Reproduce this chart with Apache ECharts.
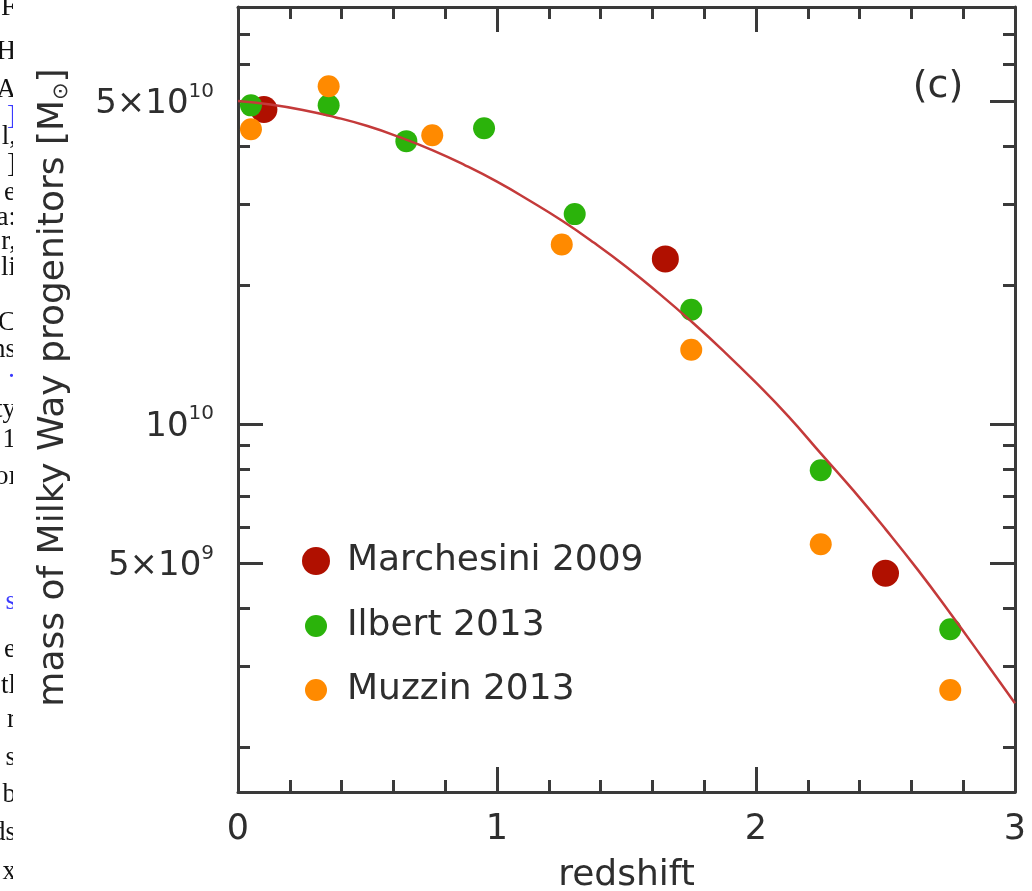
<!DOCTYPE html>
<html><head><meta charset="utf-8">
<script src="https://cdn.jsdelivr.net/npm/echarts@6/dist/echarts.min.js"></script>
<style>html,body{margin:0;padding:0;background:#fff}#c{width:1032px;height:891px}</style>
</head><body><div id="c"></div>
<script>
// ---------------- data ----------------
const xTickLabels = ['0', '1', '2', '3'];
const yMajorTicks = [5e9, 1e10, 5e10];
const yMajorLabels = [['5×10', '9'], ['10', '10'], ['5×10', '10']];
const yMinorTicks = [2e9, 3e9, 4e9, 6e9, 7e9, 8e9, 9e9, 2e10, 3e10, 4e10, 6e10, 7e10];
const seriesNames = ['Marchesini 2009', 'Ilbert 2013', 'Muzzin 2013'];
const marchesini = [[0.10, 4.80e10], [1.65, 2.28e10], [2.50, 4.76e9]];
const ilbert = [[0.05, 4.90e10], [0.35, 4.90e10], [0.65, 4.10e10], [0.95, 4.37e10], [1.30, 2.85e10],
                [1.75, 1.77e10], [2.25, 7.95e9], [2.75, 3.60e9]];
const muzzin = [[0.05, 4.35e10], [0.35, 5.39e10], [0.75, 4.22e10], [1.25, 2.45e10], [1.75, 1.45e10],
                [2.25, 5.50e9], [2.75, 2.66e9]];
const fitCurve = [[0.000, 5.01e10], [0.125, 4.92e10], [0.250, 4.79e10], [0.375, 4.62e10], [0.500, 4.42e10],
                  [0.625, 4.18e10], [0.750, 3.92e10], [0.875, 3.64e10], [1.000, 3.35e10], [1.125, 3.05e10],
                  [1.250, 2.76e10], [1.375, 2.47e10], [1.500, 2.19e10], [1.625, 1.92e10], [1.750, 1.67e10],
                  [1.875, 1.44e10], [2.000, 1.23e10], [2.125, 1.04e10], [2.250, 8.65e9], [2.375, 7.20e9],
                  [2.500, 5.93e9], [2.625, 4.84e9], [2.750, 3.90e9], [2.875, 3.12e9], [3.000, 2.49e9]];
const panelLabel = '(c)';
const xTitle = 'redshift';
const yTitleParts = ['mass of Milky Way progenitors [M', '⊙', ']'];
// text fragments of the neighbouring page column (left edge)
const fragments = ['oF', 'H', '[A', ']', 'l,', ']', 'e', 'a:', 'r,', 'li', 'C', 'ns', '·', 'ty', '1', 'oı',
                   's', 'e', 'tl', 'r', 's', 'b', 'ds', 'x'];
const fragmentY = [8, 52, 90, 117, 137, 165, 193, 218, 242, 268, 323, 350, 378, 410, 440, 477,
                   602, 650, 686, 720, 758, 795, 833, 872];
const fragmentBlue = [3, 12, 16];

// ---------------- chart ----------------
const FONT = '"DejaVu Sans", sans-serif';
const AX = '#3a3a3a';
const TXT = '#2e2e2e';
const cRed = '#b01000', cGreen = '#2bb30b', cOrange = '#ff8a00', cLine = '#c43a3a';
const yMin = 1.6e9, yMax = 8e10;

function yLabel(v) {
  let best = 0, bd = Infinity;
  yMajorTicks.forEach((t, i) => { const d = Math.abs(Math.log(v / t)); if (d < bd) { bd = d; best = i; } });
  const p = yMajorLabels[best];
  return '{b|' + p[0] + '}{s|' + p[1] + '}';
}

function yAxisDef(pos, ticks, len, showLabel, showLine, withName) {
  const a = {
    type: 'log', logBase: 10, min: yMin, max: yMax, position: pos, gridIndex: 0,
    splitLine: { show: false }, minorTick: { show: false }, minorSplitLine: { show: false },
    axisLine: { show: showLine, lineStyle: { color: AX, width: 3 } },
    axisTick: { show: true, inside: true, length: len, customValues: ticks, lineStyle: { color: AX, width: 3 } },
    axisLabel: { show: showLabel }
  };
  if (showLabel) {
    a.axisLabel = {
      show: true, customValues: yMajorTicks, margin: 24, formatter: yLabel,
      rich: {
        b: { fontFamily: FONT, fontSize: 34, color: TXT, lineHeight: 40, padding: [6, 0, 0, 0] },
        s: { fontFamily: FONT, fontSize: 20, color: TXT, verticalAlign: 'top', lineHeight: 40, padding: [0, 0, 10, 0] }
      }
    };
  }
  if (withName) {
    a.name = '{t|' + yTitleParts[0] + '}{u|' + yTitleParts[1] + '}{t|' + yTitleParts[2] + '}';
    a.nameLocation = 'middle';
    a.nameRotate = 90;
    a.nameGap = 166;
    a.nameTextStyle = {
      padding: [0, 0, 0, 24],
      rich: {
        t: { fontFamily: FONT, fontSize: 36, color: TXT },
        u: { fontFamily: FONT, fontSize: 21, color: TXT, verticalAlign: 'bottom' }
      }
    };
  }
  return a;
}

function xAxisDef(pos, showLabel, withName) {
  const a = {
    type: 'value', min: 0, max: 3, interval: 1, position: pos, gridIndex: 0,
    splitLine: { show: false },
    axisLine: { show: true, onZero: false, lineStyle: { color: AX, width: 3 } },
    axisTick: { show: true, inside: true, length: 25, lineStyle: { color: AX, width: 3 } },
    minorTick: { show: true, splitNumber: 5, length: 12, lineStyle: { color: AX, width: 3 } },
    axisLabel: { show: showLabel, margin: 20, fontFamily: FONT, fontSize: 35, color: TXT,
                 formatter: v => xTickLabels[Math.round(v)] }
  };
  if (withName) {
    a.name = xTitle; a.nameLocation = 'middle'; a.nameGap = 66;
    a.nameTextStyle = { fontFamily: FONT, fontSize: 36, color: TXT };
  }
  return a;
}

function legendDef(name, size, left, top) {
  return {
    data: [{ name: name, icon: 'circle' }], orient: 'vertical', left: left, top: top, padding: 0,
    itemWidth: 52, itemHeight: size, selectedMode: false,
    textStyle: { fontFamily: FONT, fontSize: 36, color: TXT }
  };
}

const graphics = [];
fragments.forEach((t, i) => {
  graphics.push({ type: 'text', x: 16, y: fragmentY[i], z: 1,
    style: { text: t, font: '27px "Liberation Serif", serif', fill: fragmentBlue.includes(i) ? '#3a3aff' : '#111',
             textAlign: 'right', textVerticalAlign: 'middle' } });
});
graphics.push({ type: 'rect', shape: { x: 13, y: 0, width: 14, height: 891 }, z: 2, style: { fill: '#fff' } });
graphics.push({ type: 'text', x: 938, y: 87, z: 5,
  style: { text: panelLabel, font: '38px ' + FONT, fill: TXT, textAlign: 'center', textVerticalAlign: 'middle' } });

const option = {
  backgroundColor: '#fff',
  animation: false,
  grid: { left: 238, right: 17, top: 7, bottom: 99, containLabel: false, outerBoundsMode: 'none' },
  xAxis: [xAxisDef('bottom', true, true), xAxisDef('top', false, false)],
  yAxis: [
    yAxisDef('left', yMajorTicks, 25, true, true, true),
    yAxisDef('left', yMinorTicks, 12, false, false, false),
    yAxisDef('right', yMajorTicks, 25, false, true, false),
    yAxisDef('right', yMinorTicks, 12, false, false, false)
  ],
  legend: [legendDef(seriesNames[0], 28, 302, 543), legendDef(seriesNames[1], 22, 305, 608),
           legendDef(seriesNames[2], 22, 305, 672)],
  graphic: graphics,
  series: [
    { name: seriesNames[0], type: 'scatter', data: marchesini, symbol: 'circle', symbolSize: 27,
      itemStyle: { color: cRed, opacity: 1 }, z: 3 },
    { name: seriesNames[1], type: 'scatter', data: ilbert, symbol: 'circle', symbolSize: 22,
      itemStyle: { color: cGreen, opacity: 1 }, z: 3 },
    { name: seriesNames[2], type: 'scatter', data: muzzin, symbol: 'circle', symbolSize: 22,
      itemStyle: { color: cOrange, opacity: 1 }, z: 3 },
    { name: 'fit', type: 'line', data: fitCurve, smooth: true, showSymbol: false, symbol: 'none',
      lineStyle: { color: cLine, width: 2.5 }, z: 4, clip: true }
  ]
};
const chart = echarts.init(document.getElementById('c'), null, { renderer: 'canvas' });
chart.setOption(option);
</script>
</body></html>
